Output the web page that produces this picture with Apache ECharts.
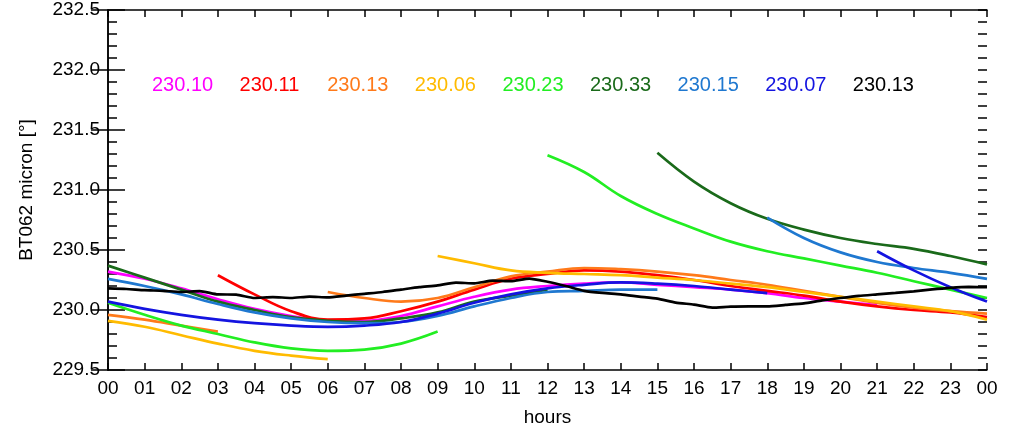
<!DOCTYPE html>
<html>
<head>
<meta charset="utf-8">
<script src="https://cdn.jsdelivr.net/npm/echarts@6/dist/echarts.min.js"></script>
<style>
  html, body { margin: 0; padding: 0; background: #fff; }
  #chart { width: 1009px; height: 423px; }
</style>
</head>
<body>
<div id="chart"></div>
<script>
// hours of the day, 00..24
var hours = [0, 1, 2, 3, 4, 5, 6, 7, 8, 9, 10, 11, 12, 13, 14, 15, 16, 17, 18, 19, 20, 21, 22, 23, 24];

// hourly values, null = no data
var magenta = [230.32, 230.26, 230.18, 230.09, 230.01, 229.95, 229.91, 229.91, 229.95, 230.03, 230.11, 230.17, 230.20, 230.22, 230.23, 230.21, 230.19, 230.17, 230.14, 230.10, 230.07, 230.04, null, null, null];
var red = [null, null, null, 230.29, 230.13, 229.99, 229.92, 229.93, 229.99, 230.07, 230.17, 230.26, 230.30, 230.33, 230.32, 230.29, 230.25, 230.20, 230.16, 230.12, 230.07, 230.03, 230.00, 229.98, 229.94];
var orange = [229.96, 229.92, 229.87, 229.82, null, null, 230.15, 230.10, 230.07, 230.10, 230.19, 230.28, 230.32, 230.35, 230.34, 230.32, 230.29, 230.25, 230.21, 230.16, 230.11, 230.06, 230.02, 229.99, 229.97];
var yellow = [229.91, 229.86, 229.79, 229.72, 229.66, 229.62, 229.59, null, null, 230.45, 230.39, 230.33, 230.31, 230.30, 230.29, 230.27, 230.25, 230.22, 230.19, 230.15, 230.11, 230.07, 230.03, 229.99, 229.92];
var green = [230.06, 229.96, 229.87, 229.80, 229.73, 229.68, 229.66, 229.67, 229.72, 229.82, null, null, 231.29, 231.15, 230.95, 230.80, 230.68, 230.57, 230.49, 230.43, 230.37, 230.31, 230.24, 230.17, 230.10];
var darkGreen = [230.37, 230.27, 230.17, 230.07, 230.00, 229.94, 229.91, 229.90, 229.93, 229.98, 230.07, 230.12, 230.17, null, null, 231.31, 231.07, 230.89, 230.76, 230.67, 230.60, 230.55, 230.51, 230.45, 230.38];
var steelBlue = [230.26, 230.20, 230.13, 230.05, 229.98, 229.93, 229.90, 229.89, 229.90, 229.95, 230.03, 230.10, 230.15, 230.16, 230.17, 230.17, null, null, 230.77, 230.60, 230.48, 230.40, 230.35, 230.31, 230.26];
var blue = [230.07, 230.01, 229.96, 229.92, 229.89, 229.87, 229.86, 229.87, 229.90, 229.97, 230.06, 230.13, 230.18, 230.21, 230.23, 230.22, 230.20, 230.17, 230.14, null, null, 230.49, 230.33, 230.19, 230.07];

// black curve is noisier, read every half hour
var halfHours = [0, 0.5, 1, 1.5, 2, 2.5, 3, 3.5, 4, 4.5, 5, 5.5, 6, 6.5, 7, 7.5, 8, 8.5, 9, 9.5, 10, 10.5, 11, 11.5, 12, 12.5, 13, 13.5, 14, 14.5, 15, 15.5, 16, 16.5, 17, 17.5, 18, 18.5, 19, 19.5, 20, 20.5, 21, 21.5, 22, 22.5, 23, 23.5, 24];
var black = [230.18, 230.175, 230.165, 230.16, 230.15, 230.158, 230.13, 230.128, 230.10, 230.108, 230.10, 230.112, 230.105, 230.12, 230.135, 230.15, 230.17, 230.19, 230.205, 230.228, 230.222, 230.245, 230.24, 230.262, 230.235, 230.20, 230.16, 230.142, 230.13, 230.112, 230.095, 230.062, 230.045, 230.02, 230.028, 230.03, 230.03, 230.042, 230.055, 230.08, 230.10, 230.118, 230.13, 230.142, 230.155, 230.172, 230.185, 230.192, 230.19];

var labels = ["230.10", "230.11", "230.13", "230.06", "230.23", "230.33", "230.15", "230.07", "230.13"];
var colors = ["#ff00ff", "#ff0000", "#ff7a1a", "#ffbb00", "#22ee22", "#1a6a1a", "#1f78d0", "#1414e0", "#000000"];
var hourLabels = ["00", "01", "02", "03", "04", "05", "06", "07", "08", "09", "10", "11", "12", "13", "14", "15", "16", "17", "18", "19", "20", "21", "22", "23", "00"];

var FONT = "'Liberation Sans', Arial, sans-serif";

function pairs(xs, ys) {
  return xs.map(function (x, i) { return [x, ys[i]]; });
}

var hourlySeries = [magenta, red, orange, yellow, green, darkGreen, steelBlue, blue];

var series = hourlySeries.map(function (vals, i) {
  return {
    type: "line",
    data: pairs(hours, vals),
    smooth: 0.4,
    showSymbol: false,
    lineStyle: { color: colors[i], width: 2.7 },
    z: 2
  };
});
series.push({
  type: "line",
  data: pairs(halfHours, black),
  smooth: 0.2,
  showSymbol: false,
  lineStyle: { color: colors[8], width: 2.7 },
  z: 3
});

var graphics = labels.map(function (t, i) {
  return {
    type: "text",
    left: 152 + i * 87.6,
    top: 75,
    style: { text: t, fill: colors[i], font: "20px " + FONT }
  };
});

var black15 = { color: "#000", width: 1.5 };

// x axes: labelled bottom, bare top
function xAxisOf(pos, labelled) {
  return {
    type: "value",
    min: 0,
    max: 24,
    interval: 1,
    position: pos,
    name: labelled ? "hours" : "",
    nameLocation: "middle",
    nameGap: 38,
    nameTextStyle: { color: "#000", fontSize: 19, fontFamily: FONT },
    axisLine: { show: true, lineStyle: black15 },
    axisTick: { show: true, inside: true, length: 7, lineStyle: black15 },
    axisLabel: {
      show: labelled,
      color: "#000",
      fontSize: 19,
      fontFamily: FONT,
      margin: 9,
      formatter: function (v) { return hourLabels[v]; }
    },
    splitLine: { show: false }
  };
}

// y axes: major ticks every 0.5, a second axis for the 0.1 minor ticks
function yAxisOf(pos, labelled, step, tickLen) {
  return {
    type: "value",
    min: 229.5,
    max: 232.5,
    interval: step,
    position: pos,
    offset: 0,
    name: labelled ? "BT062 micron [°]" : "",
    nameLocation: "middle",
    nameGap: 72,
    nameTextStyle: { color: "#000", fontSize: 19, fontFamily: FONT },
    axisLine: { show: step === 0.5, lineStyle: black15 },
    axisTick: { show: true, inside: true, length: tickLen, lineStyle: black15 },
    axisLabel: {
      show: labelled,
      color: "#000",
      fontSize: 19,
      fontFamily: FONT,
      margin: 8,
      formatter: function (v) { return v.toFixed(1); }
    },
    splitLine: { show: false }
  };
}

var chart = echarts.init(document.getElementById("chart"));
chart.setOption({
  animation: false,
  backgroundColor: "#fff",
  grid: { left: 108, right: 22, top: 10, bottom: 53, containLabel: false, outerBoundsMode: "none" },
  graphic: graphics,
  xAxis: [xAxisOf("bottom", true), xAxisOf("top", false)],
  yAxis: [
    yAxisOf("left", true, 0.5, 17),
    yAxisOf("right", false, 0.5, 17),
    yAxisOf("left", false, 0.1, 9),
    yAxisOf("right", false, 0.1, 9)
  ],
  series: series
});
</script>
</body>
</html>
